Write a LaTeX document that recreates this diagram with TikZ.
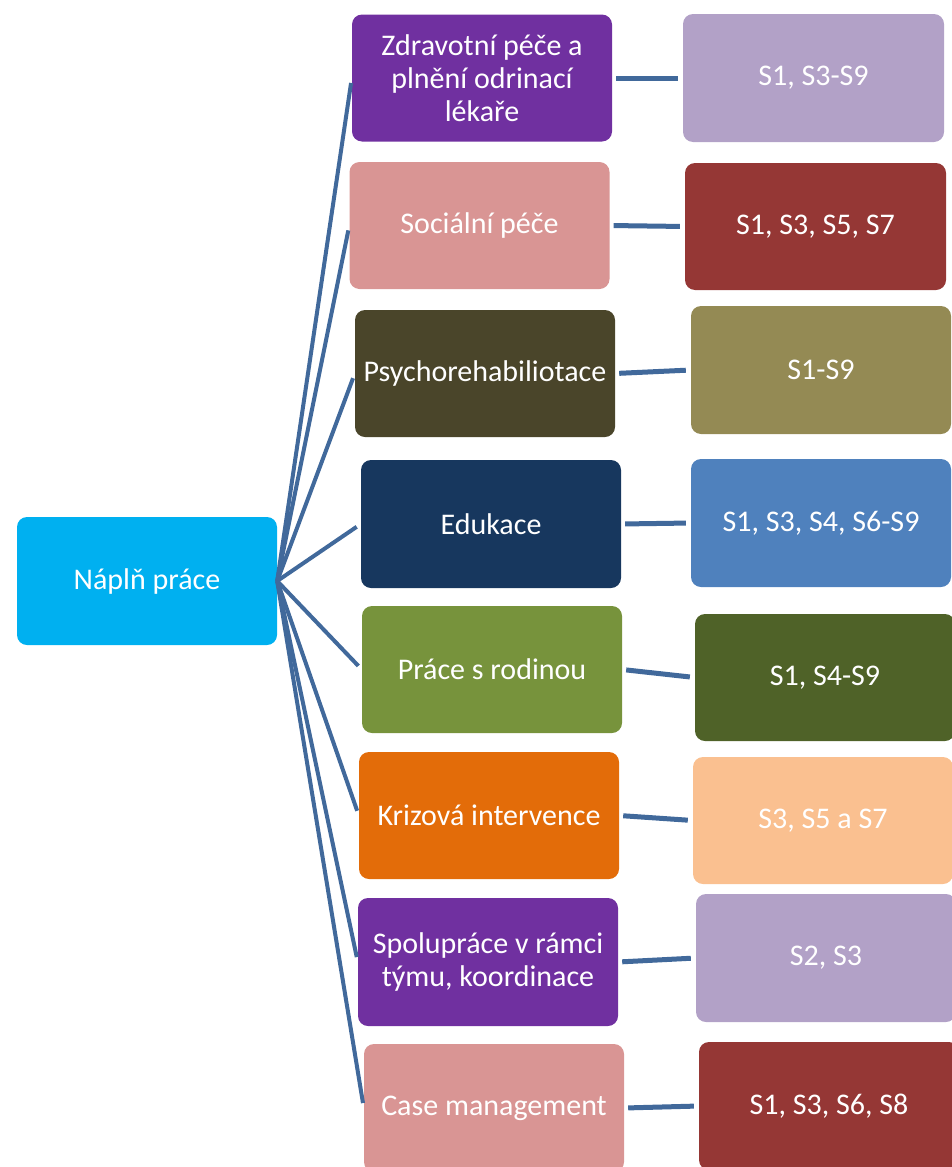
\documentclass[tikz,border=0pt]{standalone}
\usepackage{fontspec}
\setmainfont{Carlito}
\definecolor{cRoot}{HTML}{00B0F0}
\definecolor{cPurple}{HTML}{7030A0}
\definecolor{cLilac}{HTML}{B2A1C7}
\definecolor{cPink}{HTML}{D99594}
\definecolor{cMaroon}{HTML}{953735}
\definecolor{cDarkOlive}{HTML}{4A452A}
\definecolor{cKhaki}{HTML}{948A54}
\definecolor{cNavy}{HTML}{17375E}
\definecolor{cBlue}{HTML}{4F81BD}
\definecolor{cGreen}{HTML}{77933C}
\definecolor{cDarkGreen}{HTML}{4F6228}
\definecolor{cOrange}{HTML}{E36C09}
\definecolor{cPeach}{HTML}{FAC090}
\definecolor{cLine}{HTML}{41699B}
\tikzset{
  box/.style={rounded corners=10pt, minimum width=260pt, minimum height=127pt,
    inner sep=0pt, text=white, align=center,
    font=\fontsize{30}{33}\selectfont},
  fan/.style={draw=cLine, line width=4pt, shorten >=5pt},
  link/.style={draw=cLine, line width=5pt, shorten <=4pt, shorten >=5pt},
}
\begin{document}
\begin{tikzpicture}[x=1pt,y=-1pt]
\useasboundingbox (0,0) rectangle (951,1167);
\node[box, fill=cRoot, minimum height=128pt] (root) at (147,581) {Náplň práce};
% middle column
\node[box, fill=cPurple] (m1) at (482,78) {Zdravotní péče a\\plnění odrinací\\lékaře};
\node[box, fill=cPink] (m2) at (479.5,225.5) {Sociální péče};
\node[box, fill=cDarkOlive] (m3) at (485,373.5) {Psychorehabiliotace};
\node[box, fill=cNavy, minimum height=128pt] (m4) at (491,524) {Edukace};
\node[box, fill=cGreen] (m5) at (492,669.5) {Práce s rodinou};
\node[box, fill=cOrange] (m6) at (489,815.5) {Krizová intervence};
\node[box, fill=cPurple, minimum height=128pt] (m7) at (488,962) {Spolupráce v rámci\\týmu, koordinace};
\node[box, fill=cPink, minimum height=128pt] (m8) at (494,1108) {Case management};
% right column
\node[box, fill=cLilac, minimum width=261pt, minimum height=128pt] (r1) at (813.5,78) {S1, S3-S9};
\node[box, fill=cMaroon, minimum width=261pt] (r2) at (815.5,226.5) {S1, S3, S5, S7};
\node[box, fill=cKhaki, minimum height=128pt] (r3) at (821,370) {S1-S9};
\node[box, fill=cBlue, minimum height=128pt] (r4) at (821,523) {S1, S3, S4, S6-S9};
\node[box, fill=cDarkGreen] (r5) at (825,677.5) {S1, S4-S9};
\node[box, fill=cPeach] (r6) at (823,820.5) {S3, S5 a S7};
\node[box, fill=cLilac, minimum height=128pt] (r7) at (826,958) {S2, S3};
\node[box, fill=cMaroon, minimum height=128pt] (r8) at (829,1106) {S1, S3, S6, S8};
% fan connectors
\foreach \i in {1,...,8} {
  \draw[fan] (root.east) -- (m\i.west);
  \draw[link] (m\i.east) -- (r\i.west);
}
\end{tikzpicture}
\end{document}
